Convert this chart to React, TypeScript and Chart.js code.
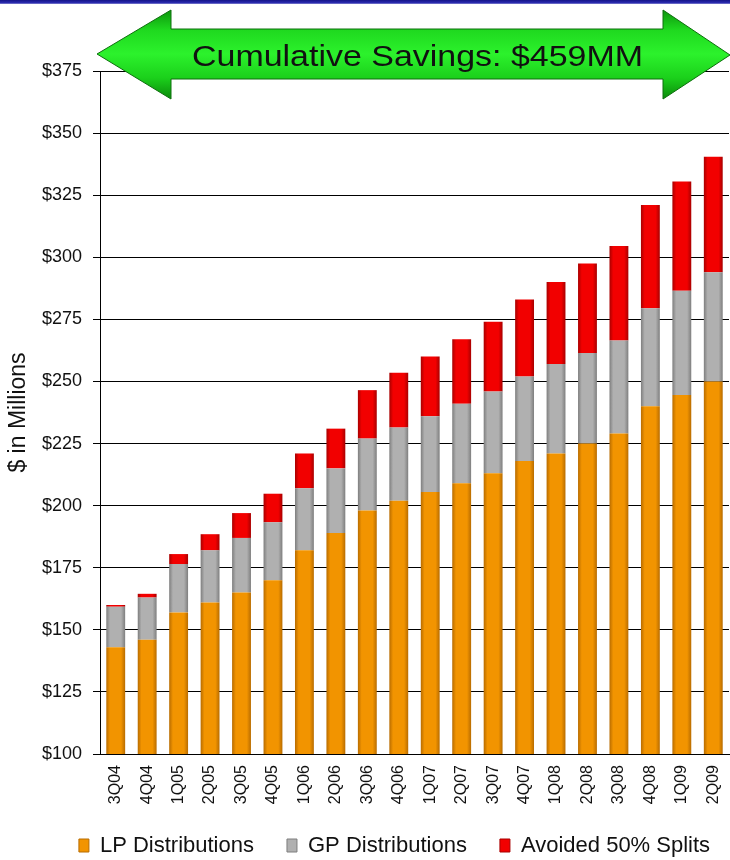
import React, { useEffect, useRef } from "react";
import { Chart, registerables } from "chart.js";

Chart.register(...registerables);

const categories = [
  "3Q04", "4Q04", "1Q05", "2Q05", "3Q05", "4Q05", "1Q06", "2Q06", "3Q06", "4Q06",
  "1Q07", "2Q07", "3Q07", "4Q07", "1Q08", "2Q08", "3Q08", "4Q08", "1Q09", "2Q09",
];
const lpDistributions = [143, 146, 157, 161, 165, 170, 182, 189, 198, 202, 205.5, 209, 213, 218, 221, 225, 229, 240, 244.5, 250];
const gpDistributions = [16.3, 17, 19.5, 21, 22, 23.3, 25, 26, 29, 29.5, 30.5, 32, 33, 34, 36, 36.5, 37.5, 39.5, 42, 44];
const avoidedSplits = [0.7, 1.5, 4, 6.5, 10, 11.5, 14, 16, 19.5, 22, 24, 26, 28, 31, 33, 36, 38, 41.5, 44, 46.5];
const yTickValues = [100, 125, 150, 175, 200, 225, 250, 275, 300, 325, 350, 375];
const seriesNames = ["LP Distributions", "GP Distributions", "Avoided 50% Splits"];
const yAxisTitle = "$ in Millions";
const bannerText = "Cumulative Savings: $459MM";

const FONT = "'Liberation Sans', Arial, Helvetica, sans-serif";
const centerColors = ["#f29400", "#b0b0b0", "#f20000"];
const edgeColors = ["#b86c00", "#7e7e7e", "#a80000"];
const BAR_PCT = 0.6;
const LEGEND_PAD = 33;
const X_AXIS_H = 52;

function barFill(i: number) {
  return (ctx: any) => {
    const chart = ctx.chart;
    const xs = chart.scales && chart.scales.x;
    if (ctx.type !== "data" || !xs || !chart.chartArea) return centerColors[i];
    const cx = xs.getPixelForValue(ctx.dataIndex);
    const half = ((chart.chartArea.right - chart.chartArea.left) / categories.length) * BAR_PCT / 2;
    const g = chart.ctx.createLinearGradient(cx - half, 0, cx + half, 0);
    g.addColorStop(0, edgeColors[i]);
    g.addColorStop(0.2, centerColors[i]);
    g.addColorStop(0.78, centerColors[i]);
    g.addColorStop(1, edgeColors[i]);
    return g;
  };
}

const legendShift = {
  id: "legendShift",
  afterLayout(chart: any) {
    const l = chart.legend;
    if (!l) return;
    const dy = 845.5 - (l.top + LEGEND_PAD + 11);
    l.left += 30;
    l.right += 30;
    l.top += dy;
    l.bottom += dy;
  },
};

export default function App() {
  const canvasRef = useRef<HTMLCanvasElement | null>(null);

  useEffect(() => {
    if (!canvasRef.current) return;
    const values = [lpDistributions, gpDistributions, avoidedSplits];
    const chart = new Chart(canvasRef.current, {
      type: "bar",
      data: {
        labels: categories,
        datasets: seriesNames.map((name, i) => ({
          label: name,
          data: values[i],
          backgroundColor: barFill(i),
          borderWidth: 0,
          categoryPercentage: 1,
          barPercentage: BAR_PCT,
        })),
      },
      options: {
        responsive: false,
        animation: false,
        layout: {
          padding: { top: 71, right: 1, left: 0, bottom: 860 - 754 - X_AXIS_H - (22 + LEGEND_PAD + 10) },
        },
        plugins: {
          tooltip: { enabled: false },
          legend: {
            position: "bottom",
            labels: {
              font: { family: FONT, size: 22 },
              color: "#111",
              boxWidth: 10,
              boxHeight: 13,
              padding: LEGEND_PAD,
              generateLabels: (c: any) =>
                (Chart.defaults.plugins.legend.labels.generateLabels as any)(c).map((l: any, i: number) => ({
                  ...l,
                  fillStyle: centerColors[i],
                  strokeStyle: edgeColors[i],
                  lineWidth: 1,
                })),
            },
          },
        },
        scales: {
          x: {
            stacked: true,
            grid: { display: true, drawOnChartArea: false, drawTicks: false },
            border: { display: true, color: "#000", width: 1 },
            ticks: {
              autoSkip: false,
              maxRotation: 90,
              minRotation: 90,
              padding: 11,
              color: "#111",
              font: { family: FONT, size: 16 },
            },
            afterFit: (s: any) => {
              s.height = X_AXIS_H;
              s.paddingLeft = 0;
              s.paddingRight = 0;
            },
          },
          y: {
            stacked: true,
            min: 100,
            max: 375,
            afterBuildTicks: (s: any) => {
              s.ticks = yTickValues.map((v) => ({ value: v }));
            },
            afterFit: (s: any) => {
              s.width = 100;
              s.paddingTop = 0;
              s.paddingBottom = 0;
            },
            grid: { color: "#000", lineWidth: 1, tickLength: 7, drawTicks: true },
            border: { display: true, color: "#000", width: 1 },
            ticks: {
              padding: 11,
              color: "#111",
              font: { family: FONT, size: 18 },
              callback: (v: any) => "$" + v,
            },
            title: {
              display: true,
              text: yAxisTitle,
              color: "#111",
              font: { family: FONT, size: 23 },
              padding: { top: 5, bottom: 0 },
            },
          },
        },
      },
      plugins: [legendShift],
    });
    return () => chart.destroy();
  }, []);

  return (
    <div style={{ position: "absolute", left: 0, top: 0, width: 730, height: 860, background: "#fff", overflow: "hidden" }}>
      <canvas ref={canvasRef} width={730} height={860} style={{ display: "block" }} />
      <div
        style={{
          position: "absolute",
          left: 0,
          top: 0,
          width: 730,
          height: 4,
          background: "linear-gradient(#141488, #2b2bb0 70%, #8c8cd0)",
        }}
      />
      <svg
        width={730}
        height={110}
        style={{ position: "absolute", left: 0, top: 0, pointerEvents: "none" }}
      >
        <defs>
          <linearGradient id="arrowFill" x1="0" y1="8" x2="0" y2="100" gradientUnits="userSpaceOnUse">
            <stop offset="0" stopColor="#0b8f0b" />
            <stop offset="0.24" stopColor="#1fd91f" />
            <stop offset="0.5" stopColor="#2cf22c" />
            <stop offset="0.76" stopColor="#1bd01b" />
            <stop offset="1" stopColor="#0a870a" />
          </linearGradient>
        </defs>
        <polygon
          points="97,54 171,10 171,29 663,29 663,10 730,55 663,99 663,79 171,79 171,99"
          fill="url(#arrowFill)"
          stroke="#0e6e0e"
          strokeWidth={1}
        />
        <text
          x={192}
          y={66}
          fontFamily={FONT}
          fontSize={29}
          fill="#111"
          textLength={451}
          lengthAdjust="spacingAndGlyphs"
        >
          {bannerText}
        </text>
      </svg>
    </div>
  );
}
